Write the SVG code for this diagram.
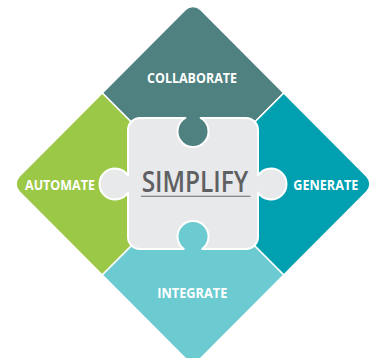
<svg xmlns="http://www.w3.org/2000/svg" width="376" height="358" viewBox="0 0 376 358">
<style>
.q{stroke:#ffffff;stroke-width:1.6;stroke-linejoin:round}
.lbl{font-family:"Open Sans","Liberation Sans",sans-serif;font-weight:700;font-size:13.8px;fill:#ffffff;text-anchor:middle}
.main{font-family:"Open Sans","Liberation Sans",sans-serif;font-weight:600;font-size:28.5px;fill:#5f6062;text-anchor:middle}
</style>
<rect width="376" height="358" fill="#ffffff"/>
<g id="collaborate">
<path class="q" fill="#4e8180" d="M102.25 93 L185.22 9.78 A11 11 0 0 1 200.78 9.78 L283.75 93 L193 184 Z"/>
<text class="lbl" x="192" y="83.3" textLength="90" lengthAdjust="spacingAndGlyphs">COLLABORATE</text>
</g>
<g id="automate">
<path class="q" fill="#9bc846" d="M102.25 93 L193 184 L102.25 275 L19.28 191.78 A11 11 0 0 1 19.28 176.22 Z"/>
<text class="lbl" x="60" y="190" textLength="70" lengthAdjust="spacingAndGlyphs">AUTOMATE</text>
</g>
<g id="generate">
<path class="q" fill="#00a0b1" d="M283.75 93 L366.72 176.22 A11 11 0 0 1 366.72 191.78 L283.75 275 L193 184 Z"/>
<text class="lbl" x="325.8" y="190" textLength="65" lengthAdjust="spacingAndGlyphs">GENERATE</text>
</g>
<g id="integrate">
<path class="q" fill="#6ccad1" d="M193 184 L283.75 275 L200.78 358.22 A11 11 0 0 1 185.22 358.22 L102.25 275 Z"/>
<text class="lbl" x="192.3" y="298.3" textLength="70" lengthAdjust="spacingAndGlyphs">INTEGRATE</text>
</g>
<g id="simplify">
<path fill="#e8e9eb" stroke="#ffffff" stroke-width="2" stroke-linejoin="round" d="M140 118 L185.4 118 A15.5 15.5 0 1 0 200.6 118 L246 118 A12 12 0 0 1 258 130 L258 175.56 A15.5 15.5 0 1 1 258 192.44 L258 237 A12 12 0 0 1 246 249 L202.17 249 A15.5 15.5 0 1 0 183.83 249 L140 249 A12 12 0 0 1 128 237 L128 192.44 A15.5 15.5 0 1 1 128 175.56 L128 130 A12 12 0 0 1 140 118 Z"/>
<text class="main" x="195" y="191.7" textLength="106.6" lengthAdjust="spacingAndGlyphs">SIMPLIFY</text>
<line x1="141" y1="196.3" x2="250.5" y2="196.3" stroke="#6a6b6d" stroke-width="1.1"/>
</g>
</svg>
